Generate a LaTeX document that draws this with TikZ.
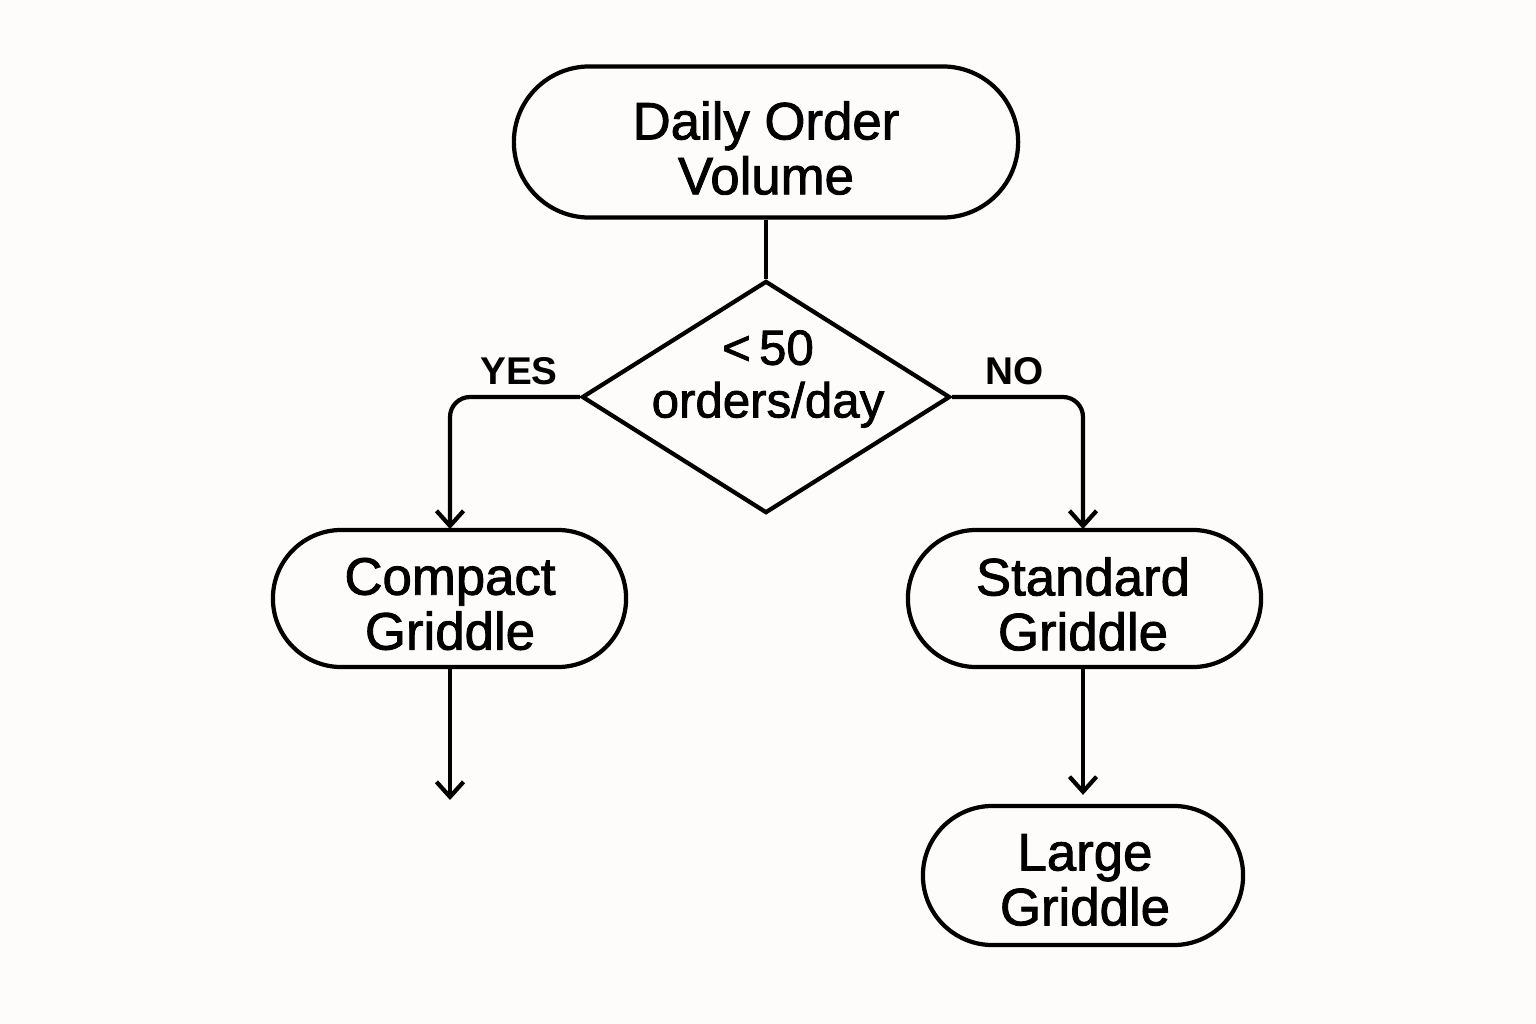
\documentclass[tikz,border=0pt]{standalone}
\usepackage{fontspec}
\setmainfont{Liberation Sans}
\newfontfamily\medfont[FakeBold=1.6]{Liberation Sans}
\usetikzlibrary{shapes.geometric,arrows.meta}
\definecolor{bg}{HTML}{FDFCFA}
\begin{document}
\begin{tikzpicture}[x=0.01cm,y=-0.01cm,line width=1.2pt,
  pill/.style={draw,rectangle,inner sep=0pt},
  txt/.style={align=center,inner sep=0pt,font=\medfont\fontsize{15}{15.6}\selectfont},
  arr/.style={-{Straight Barb[length=0.15cm,width=0.27cm,line width=1.2pt]}},
  yn/.style={font=\bfseries\fontsize{11}{12}\selectfont}]
\fill[bg] (0,0) rectangle (1536,1024);
\useasboundingbox (0,0) rectangle (1536,1024);
\node[pill,minimum width=5.04cm,minimum height=1.51cm,rounded corners=0.755cm] (top) at (766,142) {};
\node[txt] (toptext) at (766,148) {Daily Order\\Volume};
\node[draw,diamond,minimum width=3.68cm,minimum height=2.32cm,inner sep=0pt] (dec) at (766,397) {};
\node[txt,font=\medfont\fontsize{14}{15}\selectfont] (dectext) at (768,379) {<\,50\\orders/day};
\node[pill,minimum width=3.53cm,minimum height=1.37cm,rounded corners=0.685cm] (comp) at (449.5,598.5) {};
\node[txt] (comptext) at (450,604) {Compact\\Griddle};
\node[pill,minimum width=3.53cm,minimum height=1.37cm,rounded corners=0.685cm] (std) at (1084.5,598.5) {};
\node[txt] (stdtext) at (1083,604) {Standard\\Griddle};
\node[pill,minimum width=3.2cm,minimum height=1.39cm,rounded corners=0.695cm] (large) at (1083,875.5) {};
\node[txt] (largetext) at (1085,880) {Large\\Griddle};
\coordinate (cend) at (450,800);
\coordinate (cnorth) at (450,529);
\coordinate (snorth) at (1083,529);
\coordinate (ssouth) at (1083,668);
\draw (top.south) -- (dec.north);
\draw[arr,rounded corners=0.2cm] (dec.west) -| (cnorth);
\draw[arr,rounded corners=0.2cm] (dec.east) -| (snorth);
\draw[arr] (comp.south -| cend) -- (cend);
\draw[arr,shorten >=0.09cm] (ssouth) -- (large.north);
\node[yn] (yes) at (519,371) {YES};
\node[yn] (no) at (1015,371) {NO};
\end{tikzpicture}
\end{document}
